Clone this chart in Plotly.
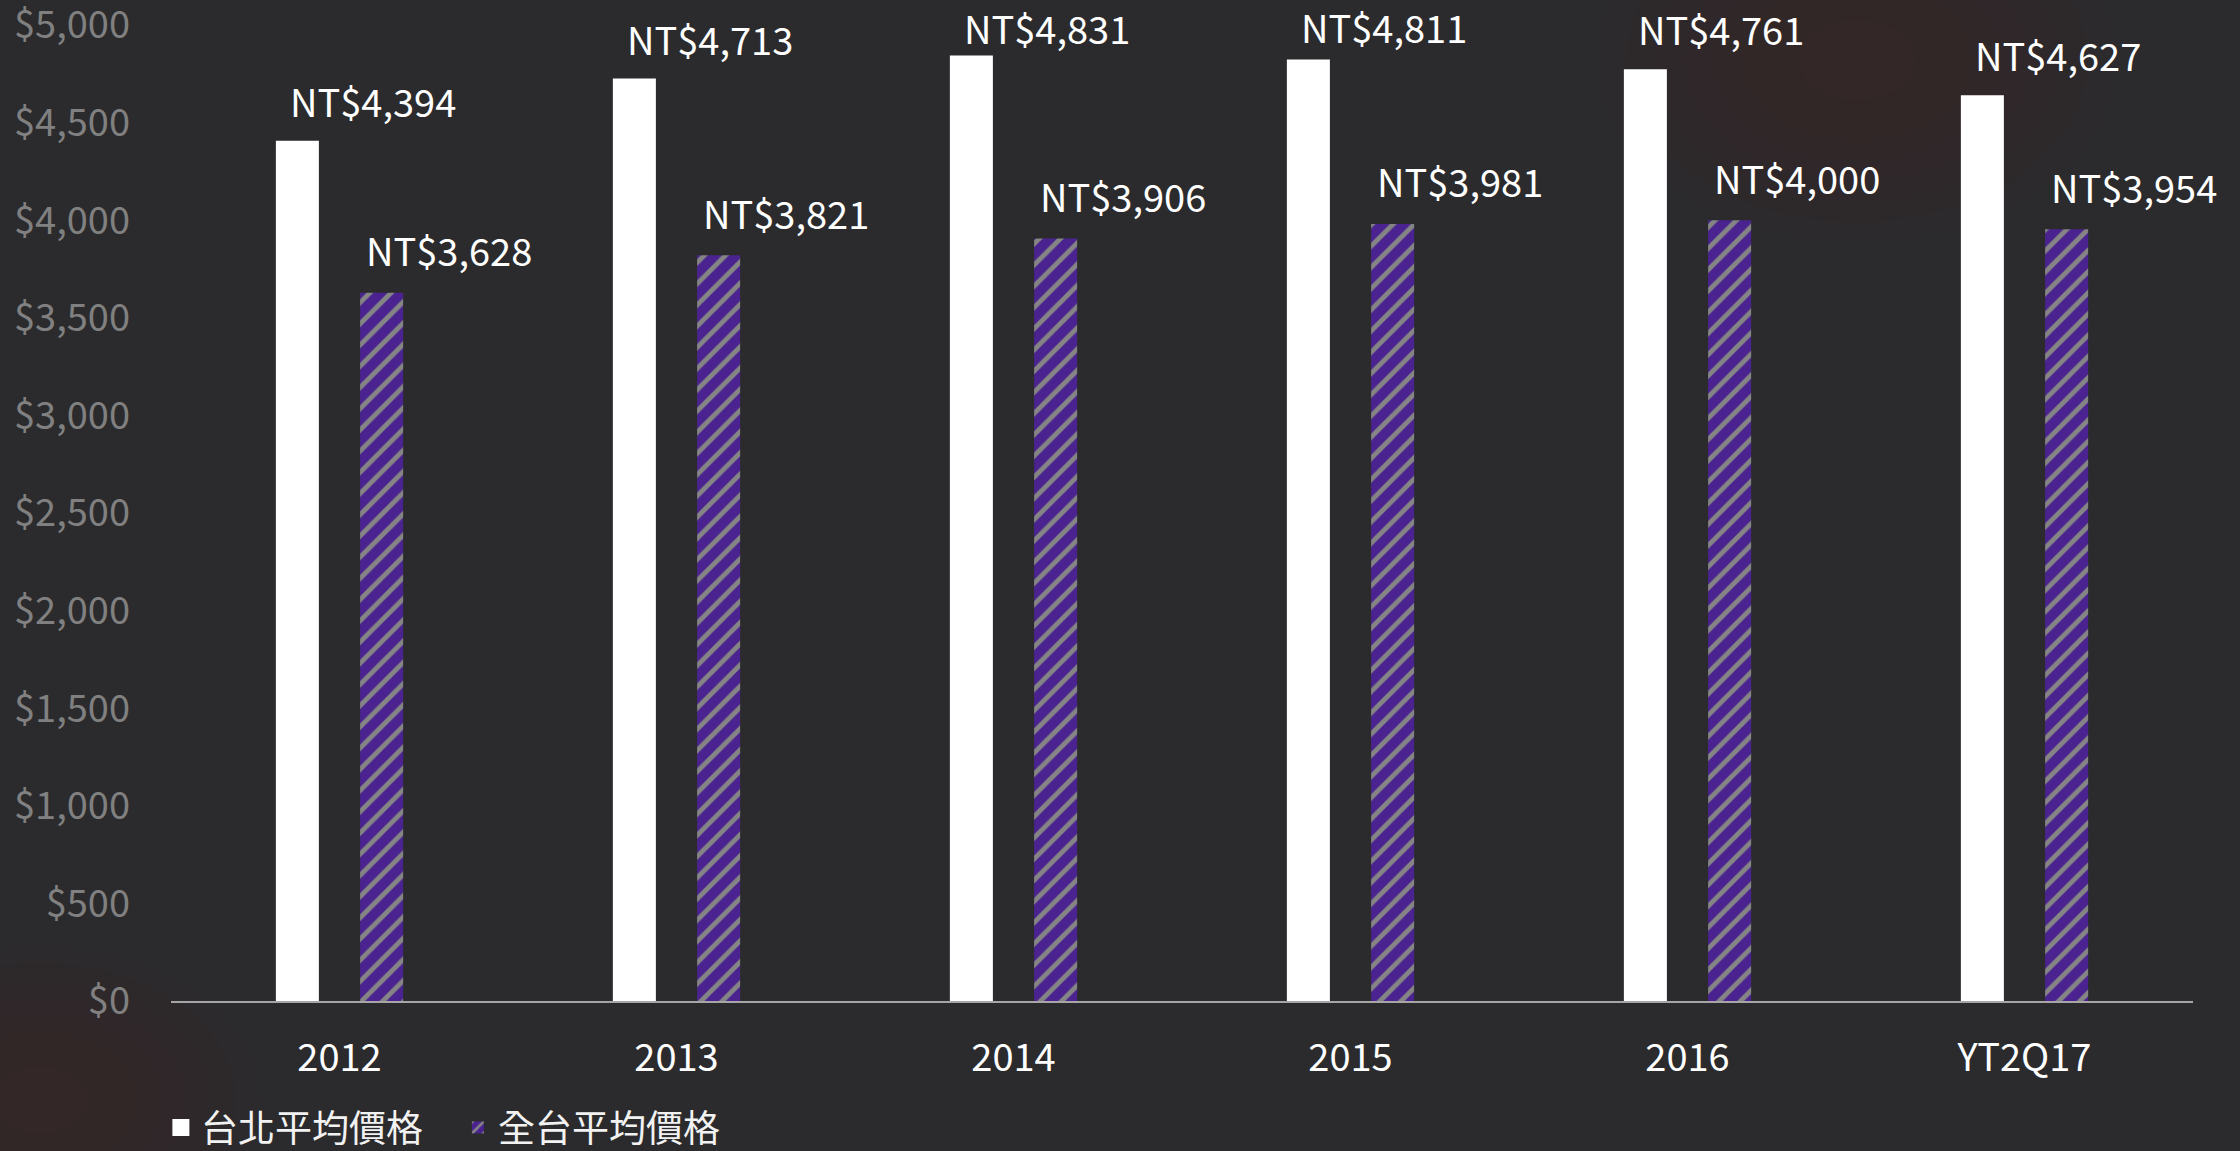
import plotly.graph_objects as go

categories = ["2012", "2013", "2014", "2015", "2016", "YT2Q17"]
taipei_avg = [4394, 4713, 4831, 4811, 4761, 4627]
taiwan_avg = [3628, 3821, 3906, 3981, 4000, 3954]
series_names = ["台北平均價格", "全台平均價格"]
y_ticks = [0, 500, 1000, 1500, 2000, 2500, 3000, 3500, 4000, 4500, 5000]
y_tick_labels = ["$" + f"{v:,}" for v in y_ticks]

FONT = "Noto Sans CJK TC"
BG = "#2b2b2d"
PURPLE = "#4b2390"

# plot-area geometry (pixels)
PLOT_TOP, PLOT_H, Y_MAX = 25, 976, 5000
LABEL_GAP, LABEL_MIN_Y = 43, 27

fig = go.Figure()
fig.add_trace(go.Bar(
    x=categories, y=taipei_avg, name=series_names[0], width=0.1128,
    marker=dict(color="#ffffff", line=dict(width=5, color="#ffffff")),
))
fig.add_trace(go.Bar(
    x=categories, y=taiwan_avg, name=series_names[1], width=0.1276,
    marker=dict(color=PURPLE, line=dict(width=0),
                pattern=dict(shape="/", fgcolor="#858585", bgcolor=PURPLE,
                             size=15, solidity=0.32, fillmode="replace")),
))


def label_shift(v):
    # keep the label inside the chart area (like the original's clamping)
    bar_top = PLOT_TOP + PLOT_H * (1 - v / Y_MAX)
    center = max(bar_top - LABEL_GAP, LABEL_MIN_Y)
    return bar_top - center


for i, v in enumerate(taipei_avg):
    fig.add_annotation(x=i, y=v, text=f"NT${v:,}", showarrow=False,
                       xshift=33, yshift=label_shift(v), yanchor="middle",
                       font=dict(family=FONT, size=38, color="#ffffff"))
for i, v in enumerate(taiwan_avg):
    fig.add_annotation(x=i, y=v, text=f"NT${v:,}", showarrow=False,
                       xshift=109, yshift=label_shift(v), yanchor="middle",
                       font=dict(family=FONT, size=38, color="#ffffff"))

# subtle background glows
glows = [(1857, 60, 260), (40, 1100, 220)]
for cx, cy, r in glows:
    for k in range(8):
        rr = r * (1 - k / 9)
        fig.add_shape(type="circle", xref="paper", yref="paper", layer="below",
                      x0=(cx - rr - 171) / 2022, x1=(cx + rr - 171) / 2022,
                      y0=(1001 - (cy + rr * 0.7)) / 976, y1=(1001 - (cy - rr * 0.7)) / 976,
                      fillcolor="#4a2a2a", opacity=0.05, line=dict(width=0))

fig.update_layout(
    width=2240, height=1151,
    paper_bgcolor=BG, plot_bgcolor="rgba(0,0,0,0)",
    margin=dict(l=171, r=47, t=25, b=150, autoexpand=False),
    barmode="group", bargap=0.5, bargroupgap=0.0,
    font=dict(family=FONT, color="#ffffff"),
    showlegend=True,
    legend=dict(orientation="h", x=-0.005, xanchor="left", y=-0.13, yanchor="middle",
                font=dict(family=FONT, size=37, color="#f2f2f2"),
                bgcolor="rgba(0,0,0,0)", itemwidth=30, traceorder="normal",
                entrywidth=252),
    xaxis=dict(type="category", range=[-0.5, len(categories) - 0.5],
               showgrid=False, zeroline=False, showline=True,
               linecolor="#a6a6a6", linewidth=2, ticks="", ticklabelstandoff=22,
               tickfont=dict(family=FONT, size=38, color="#ffffff")),
    yaxis=dict(range=[0, Y_MAX], showgrid=False, zeroline=False, showline=False,
               tickvals=y_ticks, ticktext=y_tick_labels, ticks="",
               ticklabelstandoff=40, ticklabeloverflow="allow",
               tickfont=dict(family=FONT, size=38, color="#808080")),
)

fig.write_html("out.html", config={"displayModeBar": False},
               post_script="document.body.style.margin='0';document.body.style.background='#2b2b2d';")
